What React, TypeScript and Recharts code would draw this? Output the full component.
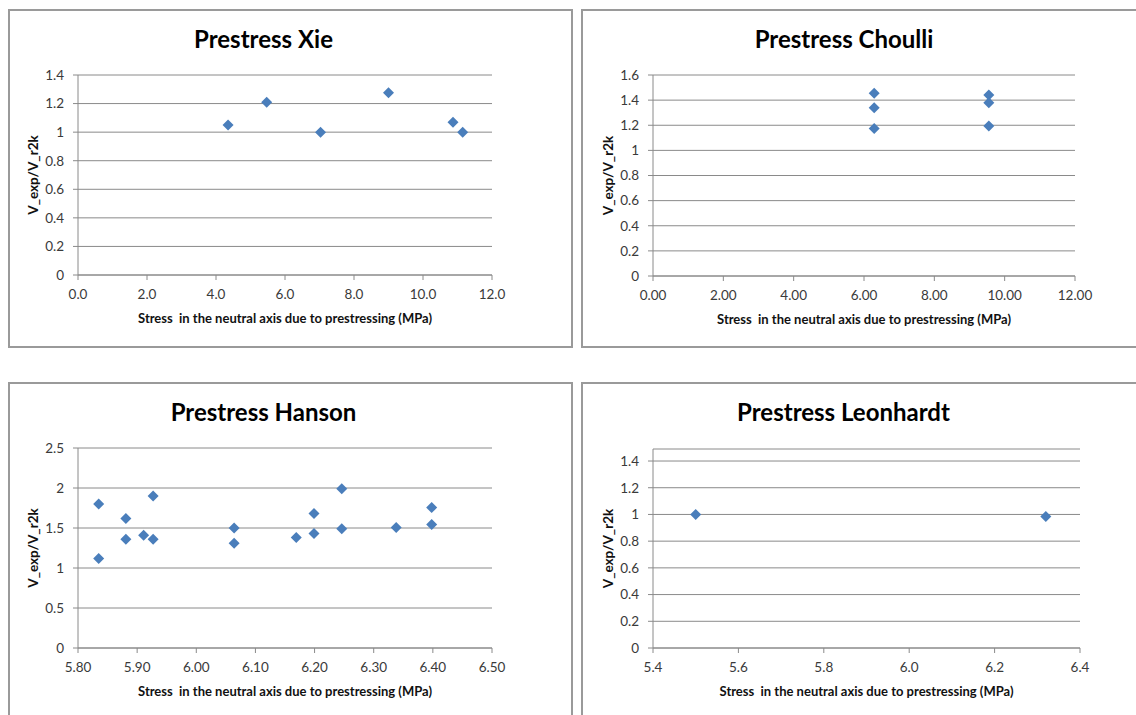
import React from 'react';
import { ScatterChart, Scatter, XAxis, YAxis, CartesianGrid, Label } from 'recharts';

// ---- Data ----
const xieX = [4.35, 5.47, 7.03, 9.0, 10.87, 11.15];
const xieY = [1.05, 1.21, 1.0, 1.275, 1.07, 1.0];

const choulliX = [6.29, 6.29, 6.29, 9.55, 9.55, 9.55];
const choulliY = [1.455, 1.34, 1.175, 1.44, 1.38, 1.195];

const hansonX = [5.835, 5.835, 5.881, 5.881, 5.911, 5.927, 5.927, 6.064, 6.064, 6.169, 6.199, 6.199, 6.246, 6.246, 6.338, 6.398, 6.398];
const hansonY = [1.8, 1.12, 1.62, 1.36, 1.41, 1.9, 1.36, 1.5, 1.31, 1.38, 1.68, 1.43, 1.99, 1.49, 1.505, 1.755, 1.545];

const leonhardtX = [5.5, 6.32];
const leonhardtY = [1.0, 0.985];

const xieXTicks = [0, 2, 4, 6, 8, 10, 12];
const xieYTicks = [0, 0.2, 0.4, 0.6, 0.8, 1, 1.2, 1.4];
const choulliXTicks = [0, 2, 4, 6, 8, 10, 12];
const choulliYTicks = [0, 0.2, 0.4, 0.6, 0.8, 1, 1.2, 1.4, 1.6];
const hansonXTicks = [5.8, 5.9, 6.0, 6.1, 6.2, 6.3, 6.4, 6.5];
const hansonYTicks = [0, 0.5, 1, 1.5, 2, 2.5];
const leonhardtXTicks = [5.4, 5.6, 5.8, 6.0, 6.2, 6.4];
const leonhardtYTicks = [0, 0.2, 0.4, 0.6, 0.8, 1, 1.2, 1.4];

const X_TITLE = 'Stress  in the neutral axis due to prestressing (MPa)';
const Y_TITLE = 'V_exp/V_r2k';

const toPoints = (xs: number[], ys: number[]) => xs.map((x, i) => ({ x, y: ys[i] }));

const FONT = 'Lato, "Open Sans", sans-serif';
const GRID = '#8a8a8a';
const MARKER = '#4a7ebb';

const Diamond = (props: any) => {
  const { cx, cy } = props;
  if (cx == null || cy == null) return null;
  const r = 5.5;
  return (
    <polygon
      points={`${cx},${cy - r} ${cx + r},${cy} ${cx},${cy + r} ${cx - r},${cy}`}
      fill={MARKER}
    />
  );
};

type PanelProps = {
  left: number;
  top: number;
  width: number;
  height: number;
  title: string;
  titleX: number;
  data: { x: number; y: number }[];
  xDomain: [number, number];
  xTicks: number[];
  xDigits: number;
  yDomain: [number, number];
  yTicks: number[];
  plotLeft: number;
  plotRight: number;
  plotTop: number;
  plotBottom: number;
};

const Y_AXIS_W = 50;
const X_AXIS_H = 50;

function Panel(p: PanelProps) {
  const margin = {
    top: p.plotTop,
    right: p.width - p.plotRight,
    bottom: p.height - p.plotBottom - X_AXIS_H,
    left: p.plotLeft - Y_AXIS_W,
  };
  return (
    <div style={{ position: 'absolute', left: p.left, top: p.top, width: p.width, height: p.height }}>
      <div
        style={{
          position: 'absolute',
          left: 0,
          top: 0,
          width: p.width,
          height: p.height,
          boxSizing: 'border-box',
          border: '2px solid #9a9a9a',
        }}
      />
      <div
        style={{
          position: 'absolute',
          left: p.titleX - 200,
          width: 400,
          top: 14,
          textAlign: 'center',
          fontFamily: FONT,
          fontWeight: 700,
          fontSize: 24,
          color: '#000',
          lineHeight: '32px',
          whiteSpace: 'pre',
        }}
      >
        {p.title}
      </div>
      <div style={{ position: 'absolute', left: 0, top: 0 }}>
        <ScatterChart width={p.width} height={p.height} margin={margin}>
          <CartesianGrid vertical={false} stroke={GRID} strokeWidth={1} />
          <XAxis
            type="number"
            dataKey="x"
            domain={p.xDomain}
            ticks={p.xTicks}
            interval={0}
            allowDataOverflow
            height={X_AXIS_H}
            tickSize={5}
            tickMargin={9}
            stroke={GRID}
            axisLine={{ stroke: GRID }}
            tickLine={{ stroke: GRID }}
            tick={{ fill: '#3a3a3a', fontSize: 13.5, fontFamily: FONT }}
            tickFormatter={(v: number) => v.toFixed(p.xDigits)}
          >
            <Label
              content={(lp: any) => {
                const vb = lp.viewBox || {};
                return (
                  <text
                    x={vb.x + vb.width / 2}
                    y={vb.y + 48}
                    textAnchor="middle"
                    style={{ fontFamily: FONT, fontWeight: 700, fontSize: 13, fill: '#111', whiteSpace: 'pre' }}
                  >
                    {X_TITLE}
                  </text>
                );
              }}
            />
          </XAxis>
          <YAxis
            type="number"
            dataKey="y"
            domain={p.yDomain}
            ticks={p.yTicks}
            interval={0}
            allowDataOverflow
            width={Y_AXIS_W}
            tickSize={5}
            tickMargin={9}
            stroke={GRID}
            axisLine={{ stroke: GRID }}
            tickLine={{ stroke: GRID }}
            tick={{ fill: '#3a3a3a', fontSize: 13.5, fontFamily: FONT }}
            tickFormatter={(v: number) => String(Math.round(v * 10) / 10)}
          >
            <Label
              content={(lp: any) => {
                const vb = lp.viewBox || {};
                const x = vb.x + vb.width - 40;
                const y = vb.y + vb.height / 2;
                return (
                  <text
                    x={x}
                    y={y}
                    textAnchor="middle"
                    transform={`rotate(-90, ${x}, ${y})`}
                    style={{ fontFamily: FONT, fontWeight: 700, fontSize: 13.5, fill: '#111' }}
                  >
                    {Y_TITLE}
                  </text>
                );
              }}
            />
          </YAxis>
          <Scatter data={p.data} shape={Diamond} isAnimationActive={false} />
        </ScatterChart>
      </div>
    </div>
  );
}

export default function App() {
  return (
    <div style={{ position: 'absolute', left: 0, top: 0, width: 1136, height: 715, overflow: 'hidden', background: '#fff' }}>
      <Panel
        left={8}
        top={9}
        width={565}
        height={339}
        title="Prestress Xie"
        titleX={255.5}
        data={toPoints(xieX, xieY)}
        xDomain={[0, 12]}
        xTicks={xieXTicks}
        xDigits={1}
        yDomain={[0, 1.4]}
        yTicks={xieYTicks}
        plotLeft={70}
        plotRight={484}
        plotTop={66}
        plotBottom={266}
      />
      <Panel
        left={581}
        top={9}
        width={560}
        height={339}
        title="Prestress Choulli"
        titleX={263}
        data={toPoints(choulliX, choulliY)}
        xDomain={[0, 12]}
        xTicks={choulliXTicks}
        xDigits={2}
        yDomain={[0, 1.6]}
        yTicks={choulliYTicks}
        plotLeft={72}
        plotRight={494}
        plotTop={66}
        plotBottom={267}
      />
      <Panel
        left={8}
        top={382}
        width={565}
        height={339}
        title="Prestress Hanson"
        titleX={255.5}
        data={toPoints(hansonX, hansonY)}
        xDomain={[5.8, 6.5]}
        xTicks={hansonXTicks}
        xDigits={2}
        yDomain={[0, 2.5]}
        yTicks={hansonYTicks}
        plotLeft={70}
        plotRight={484}
        plotTop={66}
        plotBottom={266}
      />
      <Panel
        left={581}
        top={382}
        width={560}
        height={339}
        title="Prestress Leonhardt"
        titleX={262.5}
        data={toPoints(leonhardtX, leonhardtY)}
        xDomain={[5.4, 6.4]}
        xTicks={leonhardtXTicks}
        xDigits={1}
        yDomain={[0, 1.49]}
        yTicks={leonhardtYTicks}
        plotLeft={72}
        plotRight={499}
        plotTop={67}
        plotBottom={266}
      />
    </div>
  );
}
